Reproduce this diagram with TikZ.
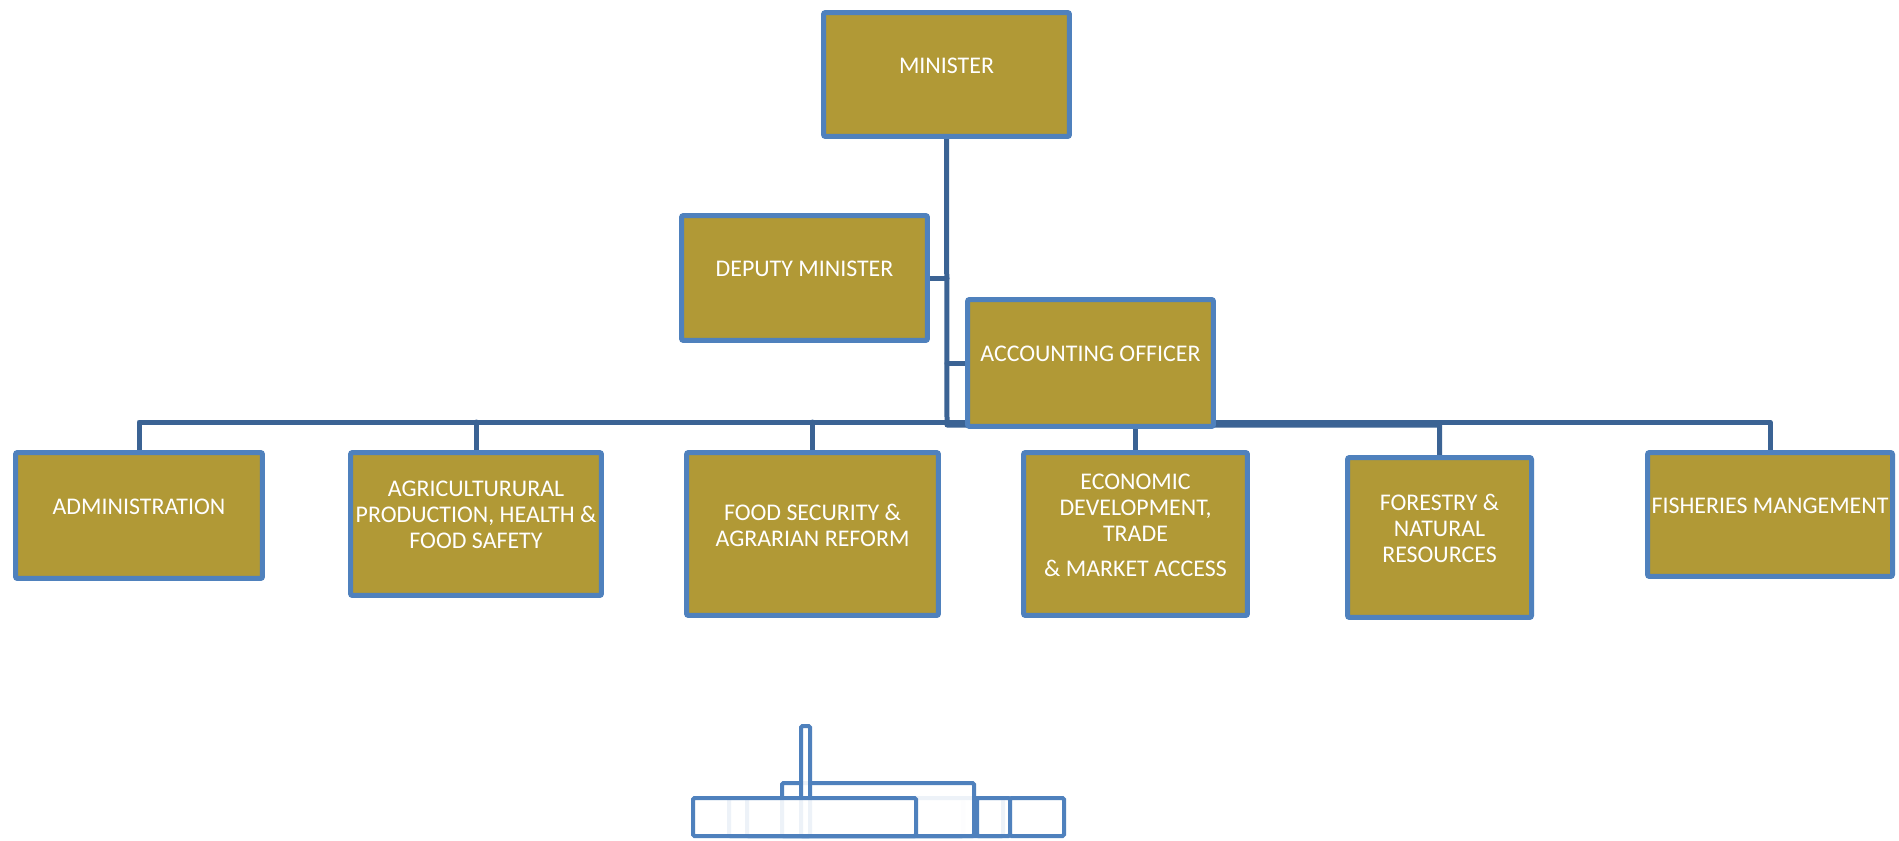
\documentclass[tikz,border=0pt]{standalone}
\usepackage{fontspec}
\setmainfont{Carlito}
\usetikzlibrary{backgrounds}
\definecolor{boxgold}{RGB}{177,153,54}
\definecolor{boxblue}{RGB}{79,129,189}
\definecolor{linkblue}{RGB}{59,99,148}
\tikzset{
  unit/.style={draw=boxblue, fill=boxgold, line width=0.1cm, rounded corners=0.04cm, inner sep=0pt},
  unittext/.style={text=white, align=center, font=\fontsize{13.6}{14.8}\selectfont, yshift=0.18cm},
  link/.style={draw=linkblue, line width=0.1cm, line cap=round, line join=round},
  ghost/.style={draw=boxblue, line width=0.08cm, fill=white, fill opacity=0.9, rounded corners=0.03cm},
}
\begin{document}
\begin{tikzpicture}[x=0.02cm, y=-0.02cm]
\useasboundingbox (0,0) rectangle (1899,841);
% top of the chart
\node [unit, minimum width=4.92cm, minimum height=2.48cm, label={[unittext]center:{MINISTER}}] (minister) at (946.5,74.5) {};
\node [unit, minimum width=4.92cm, minimum height=2.50cm, label={[unittext]center:{DEPUTY MINISTER}}] (deputy) at (804.5,278) {};
\node [unit, minimum width=4.92cm, minimum height=2.54cm, label={[unittext]center:{ACCOUNTING OFFICER}}] (accounting) at (1090.5,363) {};
% branches
\node [unit, minimum width=4.94cm, minimum height=2.52cm, label={[unittext]center:{ADMINISTRATION}}] (admin) at (139,515.5) {};
\node [unit, minimum width=5.02cm, minimum height=2.86cm, label={[unittext]center:{AGRICULTURURAL\\PRODUCTION, HEALTH \&\\FOOD SAFETY}}] (agri) at (476,524) {};
\node [unit, minimum width=5.04cm, minimum height=3.26cm, label={[unittext]center:{FOOD SECURITY \&\\AGRARIAN REFORM}}] (food) at (812.5,534) {};
\node [unit, minimum width=4.48cm, minimum height=3.26cm, label={[unittext]center:{ECONOMIC\\DEVELOPMENT,\\TRADE\\[5pt]\& MARKET ACCESS}}] (econ) at (1135.5,534) {};
\node [unit, minimum width=3.68cm, minimum height=3.20cm, label={[unittext]center:{FORESTRY \&\\NATURAL\\RESOURCES}}] (forestry) at (1439.5,537.5) {};
\node [unit, minimum width=4.90cm, minimum height=2.48cm, label={[unittext]center:{FISHERIES MANGEMENT}}] (fisheries) at (1770,514.5) {};
% connectors
\begin{scope}[on background layer]
\fill [white] (0,0) rectangle (1899,841);
\coordinate (bar) at (947,422);
\coordinate (bar2) at (947,425);
\draw [link] (minister.south) -- (bar2) -| (forestry.north);
\draw [link] (deputy.east) -- (deputy.east -| bar);
\draw [link] (accounting.west) -- (accounting.west -| bar);
\draw [link] (admin.north) |- (bar) -| (fisheries.north);
\foreach \n in {agri, food}{
  \draw [link] (\n.north) -- (\n.north |- bar);
}
\draw [link] (econ.north |- accounting.south) -- (econ.north);
\end{scope}
% leftover outlines at the bottom
\draw [ghost] (729,798) rectangle (963,836);
\draw [ghost] (747,798) rectangle (1003,836);
\draw [ghost] (782,783) rectangle (974,836);
\draw [ghost] (801,726) rectangle (810,836);
\draw [ghost] (693,798) rectangle (916,836);
\draw [ghost] (977,798) rectangle (1010,836);
\draw [ghost] (1010,798) rectangle (1064,836);
\end{tikzpicture}
\end{document}
